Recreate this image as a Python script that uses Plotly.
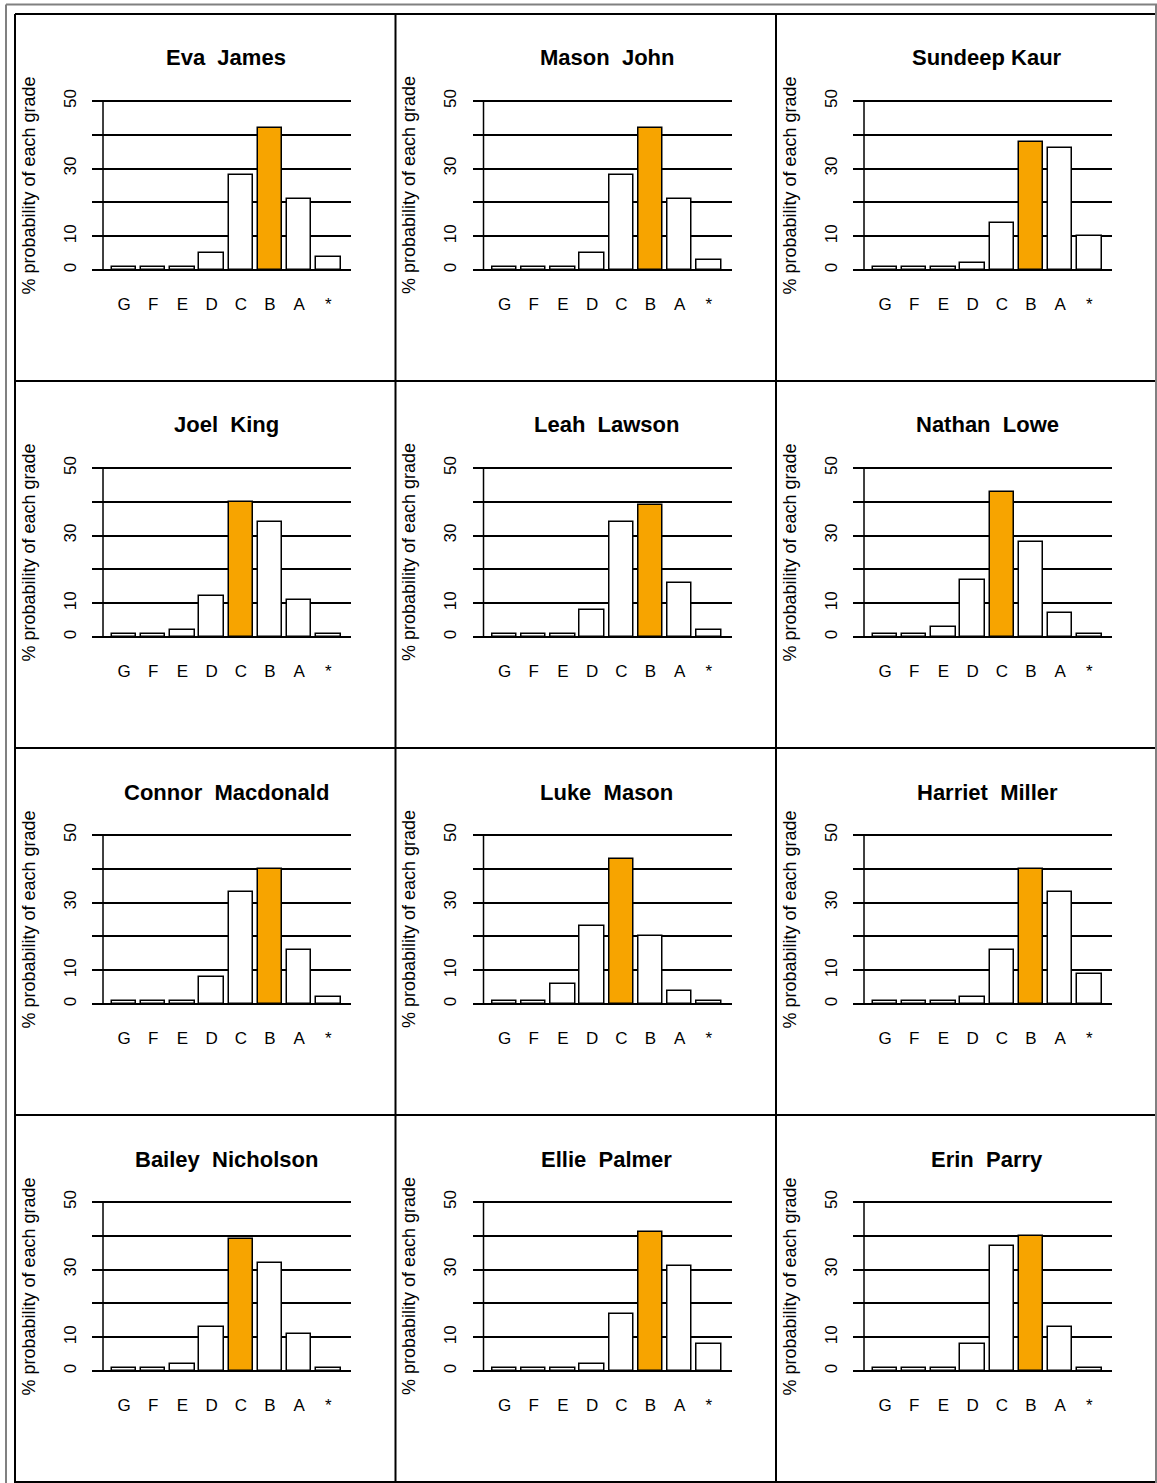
import plotly.graph_objects as go

W, H = 1157, 1483

grades = ["G", "F", "E", "D", "C", "B", "A", "*"]
students = ["Eva  James", "Mason  John", "Sundeep Kaur",
            "Joel  King", "Leah  Lawson", "Nathan  Lowe",
            "Connor  Macdonald", "Luke  Mason", "Harriet  Miller",
            "Bailey  Nicholson", "Ellie  Palmer", "Erin  Parry"]

eva_james = [1, 1, 1, 5, 28, 42, 21, 4]
mason_john = [1, 1, 1, 5, 28, 42, 21, 3]
sundeep_kaur = [1, 1, 1, 2, 14, 38, 36, 10]
joel_king = [1, 1, 2, 12, 40, 34, 11, 1]
leah_lawson = [1, 1, 1, 8, 34, 39, 16, 2]
nathan_lowe = [1, 1, 3, 17, 43, 28, 7, 1]
connor_macdonald = [1, 1, 1, 8, 33, 40, 16, 2]
luke_mason = [1, 1, 6, 23, 43, 20, 4, 1]
harriet_miller = [1, 1, 1, 2, 16, 40, 33, 9]
bailey_nicholson = [1, 1, 2, 13, 39, 32, 11, 1]
ellie_palmer = [1, 1, 1, 2, 17, 41, 31, 8]
erin_parry = [1, 1, 1, 8, 37, 40, 13, 1]

values = [eva_james, mason_john, sundeep_kaur, joel_king, leah_lawson,
          nathan_lowe, connor_macdonald, luke_mason, harriet_miller,
          bailey_nicholson, ellie_palmer, erin_parry]
predicted = ["B", "B", "B", "C", "B", "C", "B", "C", "B", "C", "B", "B"]

y_tickvals = [0, 10, 20, 30, 40, 50]
y_ticktext = ["0", "10", "", "30", "", "50"]
y_title = "% probability of each grade"

ORANGE = "#F7A400"
FONT = "Liberation Sans, Arial, sans-serif"

COL_X0, COL_W = 15, 380.5
ROW_Y0, ROW_H = 14, 367

fig = go.Figure()
layout = {}
annotations = []
shapes = []

for i, (name, vals, pred) in enumerate(zip(students, values, predicted)):
    r, c = divmod(i, 3)
    ox = COL_X0 + c * COL_W
    oy = ROW_Y0 + r * ROW_H
    sfx = "" if i == 0 else str(i + 1)
    xa, ya = "x" + sfx, "y" + sfx

    fig.add_trace(go.Bar(
        x=grades, y=vals, width=0.833,
        marker=dict(color=[ORANGE if g == pred else "white" for g in grades],
                    line=dict(color="black", width=1.5)),
        xaxis=xa, yaxis=ya, showlegend=False, hoverinfo="skip"))

    px_l, px_r = ox + 77, ox + 336
    y0px, y50px = oy + 256, oy + 87
    ppu = (y0px - y50px) / 50.0
    pad = 0.6
    dom_bot = y0px + pad * ppu
    dom_top = y50px - pad * ppu

    layout["xaxis" + sfx] = dict(
        domain=[px_l / W, px_r / W], range=[-1.096, 7.774], anchor=ya,
        type="category", categoryorder="array", categoryarray=grades,
        showgrid=False, zeroline=False, showline=False, ticks="",
        tickfont=dict(size=17, color="black", family=FONT),
        ticklabelstandoff=20, automargin=False, fixedrange=True)
    layout["yaxis" + sfx] = dict(
        domain=[1 - dom_bot / H, 1 - dom_top / H], range=[-pad, 50 + pad],
        anchor=xa, tickmode="array", tickvals=y_tickvals, ticktext=y_ticktext,
        tickangle=-90, showgrid=True, gridcolor="black", gridwidth=1.5,
        zeroline=False, showline=False, ticks="",
        tickfont=dict(size=17, color="black", family=FONT),
        ticklabelstandoff=12, automargin=False, fixedrange=True)

    # y-axis line
    shapes.append(dict(type="line", xref=xa, yref=ya, x0=-0.719, x1=-0.719,
                       y0=0, y1=50, line=dict(color="black", width=1.5)))

    # panel title
    annotations.append(dict(
        text="<b>" + name.replace("  ", " \u00a0") + "</b>",
        xref="paper", yref="paper", x=(ox + 211) / W, y=1 - (oy + 44) / H,
        xanchor="center", yanchor="middle", showarrow=False,
        font=dict(size=22, color="black", family=FONT)))
    # y title
    annotations.append(dict(
        text=y_title, textangle=-90,
        xref="paper", yref="paper", x=(ox + 13) / W,
        y=1 - ((y0px + y50px) / 2) / H,
        xanchor="center", yanchor="middle", showarrow=False,
        font=dict(size=18, color="black", family=FONT)))

# outer grey frame
GREY = "#808080"
for (x0, y0, x1, y1) in [(6, 4.5, 1157, 4.5), (6, 4.5, 6, H), (1156, 4.5, 1156, H)]:
    shapes.append(dict(type="line", xref="paper", yref="paper",
                       x0=x0 / W, x1=x1 / W, y0=1 - y0 / H, y1=1 - y1 / H,
                       line=dict(color=GREY, width=2)))
# black panel grid
for cx in [COL_X0 + k * COL_W for k in range(3)]:
    shapes.append(dict(type="line", xref="paper", yref="paper",
                       x0=cx / W, x1=cx / W, y0=1 - ROW_Y0 / H, y1=0,
                       line=dict(color="black", width=2)))
for k in range(5):
    ry = ROW_Y0 + k * ROW_H
    shapes.append(dict(type="line", xref="paper", yref="paper",
                       x0=COL_X0 / W, x1=1155 / W, y0=1 - ry / H, y1=1 - ry / H,
                       line=dict(color="black", width=2)))

fig.update_layout(
    width=W, height=H, autosize=False,
    margin=dict(l=0, r=0, t=0, b=0, pad=0),
    paper_bgcolor="white", plot_bgcolor="white",
    font=dict(family=FONT, color="black"),
    annotations=annotations, shapes=shapes, bargap=0,
    **layout)

post = (
    "document.documentElement.style.margin='0';"
    "document.body.style.margin='0';"
    "document.body.style.padding='0';"
)
fig.write_html("out.html", config={"displayModeBar": False}, post_script=post)
